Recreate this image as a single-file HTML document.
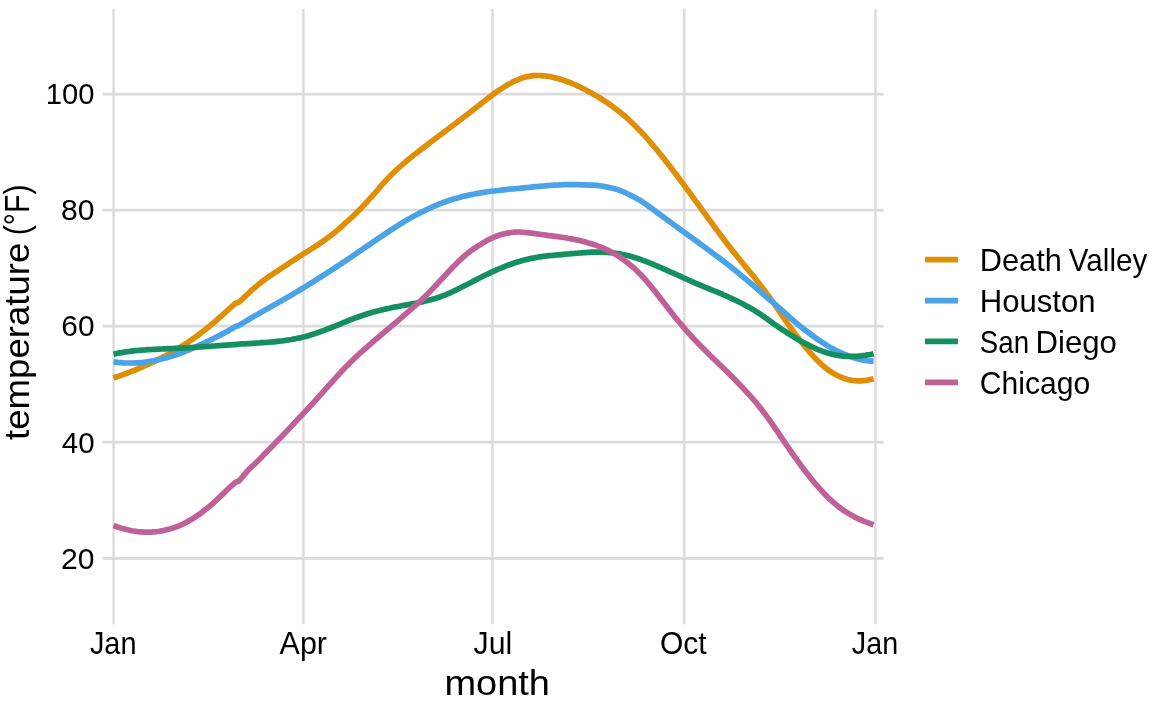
<!DOCTYPE html>
<html lang="en">
<head>
<meta charset="utf-8">
<title>Temperature by month</title>
<style>
html,body{margin:0;padding:0;background:#ffffff;}
body{width:1152px;height:711px;overflow:hidden;font-family:"Liberation Sans",sans-serif;}
svg{display:block;}
</style>
</head>
<body>
<svg role="img" aria-label="Daily temperature normals by month for four US locations" width="1152" height="711" viewBox="0 0 1152 711">
<rect width="1152" height="711" fill="#ffffff"/>
<g stroke="#dbdbdb" stroke-width="2.4" fill="none">
<line x1="102.5" x2="883.7" y1="94.0" y2="94.0" stroke-width="2.75"/>
<line x1="102.5" x2="883.7" y1="210.06" y2="210.06" stroke-width="2.75"/>
<line x1="102.5" x2="883.7" y1="326.12" y2="326.12" stroke-width="2.75"/>
<line x1="102.5" x2="883.7" y1="442.2" y2="442.2" stroke-width="2.75"/>
<line x1="102.5" x2="883.7" y1="558.25" y2="558.25" stroke-width="2.75"/>
<line x1="113.6" x2="113.6" y1="8.7" y2="624.3"/>
<line x1="303.45" x2="303.45" y1="8.7" y2="624.3"/>
<line x1="492.5" x2="492.5" y1="8.7" y2="624.3"/>
<line x1="684.25" x2="684.25" y1="8.7" y2="624.3"/>
<line x1="875.5" x2="875.5" y1="8.7" y2="624.3"/>
</g>
<g fill="none" stroke-width="5.7" stroke-linejoin="round" stroke-linecap="butt">
<path stroke="#DE8F05" d="M113.5,378.0 L115.5,377.3 L117.5,376.6 L119.5,375.9 L121.5,375.2 L123.5,374.5 L125.5,373.7 L127.5,373.0 L129.5,372.2 L131.5,371.4 L133.5,370.6 L135.5,369.8 L137.5,369.0 L139.5,368.1 L141.5,367.3 L143.5,366.4 L145.5,365.5 L147.5,364.6 L149.5,363.7 L151.5,362.8 L153.5,361.8 L155.5,360.9 L157.5,359.9 L159.5,358.9 L161.5,357.9 L163.5,356.8 L165.5,355.8 L167.5,354.7 L169.5,353.6 L171.5,352.5 L173.5,351.3 L175.5,350.1 L177.5,348.9 L179.5,347.7 L181.5,346.5 L183.5,345.2 L185.5,343.9 L187.5,342.6 L189.5,341.2 L191.5,339.9 L193.5,338.4 L195.5,337.0 L197.5,335.6 L199.5,334.1 L201.5,332.5 L203.5,331.0 L205.5,329.4 L207.5,327.8 L209.5,326.2 L211.5,324.5 L213.5,322.8 L215.5,321.1 L217.5,319.3 L219.5,317.5 L221.5,315.8 L223.5,314.0 L225.5,312.2 L227.5,310.3 L229.5,308.5 L231.5,306.8 L233.5,305.1 L235.5,303.5 L236.0,303.0 L237.5,302.7 L238.4,302.5 L239.5,301.6 L241.5,299.8 L243.5,298.0 L245.5,296.1 L247.5,294.2 L249.5,292.3 L251.5,290.4 L253.5,288.7 L255.5,287.0 L257.5,285.3 L259.5,283.7 L261.5,282.1 L263.5,280.5 L265.5,279.0 L267.5,277.6 L269.5,276.2 L271.5,274.9 L273.5,273.5 L275.5,272.2 L277.5,271.0 L279.5,269.7 L281.5,268.4 L283.5,267.0 L285.5,265.6 L287.5,264.3 L289.5,262.9 L291.5,261.6 L293.5,260.3 L295.5,259.0 L297.5,257.7 L299.5,256.4 L301.5,255.1 L303.5,253.9 L305.5,252.6 L307.5,251.4 L309.5,250.1 L311.5,248.9 L313.5,247.6 L315.5,246.3 L317.5,245.0 L319.5,243.7 L321.5,242.3 L323.5,240.9 L325.5,239.5 L327.5,238.0 L329.5,236.5 L331.5,235.0 L333.5,233.4 L335.5,231.8 L337.5,230.1 L339.5,228.4 L341.5,226.6 L343.5,224.8 L345.5,222.9 L347.5,221.2 L349.5,219.4 L351.5,217.5 L353.5,215.6 L355.5,213.7 L357.5,211.7 L359.5,209.7 L361.5,207.7 L363.5,205.6 L365.5,203.5 L367.5,201.3 L369.5,199.1 L371.5,196.9 L373.5,194.6 L375.5,192.3 L377.5,190.0 L379.5,187.7 L381.5,185.4 L383.5,183.2 L385.5,181.0 L387.5,178.8 L389.5,176.8 L391.5,174.8 L393.5,172.8 L395.5,170.9 L397.5,169.0 L399.5,167.2 L401.5,165.3 L403.5,163.6 L405.5,161.9 L407.5,160.2 L409.5,158.6 L411.5,156.9 L413.5,155.3 L415.5,153.8 L417.5,152.2 L419.5,150.7 L421.5,149.1 L423.5,147.6 L425.5,146.1 L427.5,144.6 L429.5,143.0 L431.5,141.5 L433.5,140.0 L435.5,138.5 L437.5,137.0 L439.5,135.5 L441.5,134.0 L443.5,132.5 L445.5,131.0 L447.5,129.5 L449.5,128.0 L451.5,126.5 L453.5,125.0 L455.5,123.5 L457.5,121.9 L459.5,120.4 L461.5,118.9 L463.5,117.3 L465.5,115.8 L467.5,114.3 L469.5,112.7 L471.5,111.2 L473.5,109.6 L475.5,108.0 L477.5,106.5 L479.5,104.9 L481.5,103.3 L483.5,101.7 L485.5,100.2 L487.5,98.6 L489.5,97.1 L491.5,95.6 L493.5,94.1 L495.5,92.7 L497.5,91.3 L499.5,89.9 L501.5,88.6 L503.5,87.3 L505.5,86.1 L507.5,84.9 L509.5,83.7 L511.5,82.7 L513.5,81.6 L515.5,80.7 L517.5,79.8 L519.5,79.0 L521.5,78.3 L523.5,77.6 L525.5,77.1 L527.5,76.6 L529.5,76.2 L531.5,75.9 L533.5,75.7 L535.5,75.6 L537.5,75.5 L539.5,75.5 L541.5,75.6 L543.5,75.8 L545.5,76.0 L547.5,76.2 L549.5,76.5 L551.5,76.9 L553.5,77.4 L555.5,77.9 L557.5,78.4 L559.5,79.0 L561.5,79.6 L563.5,80.3 L565.5,81.0 L567.5,81.7 L569.5,82.4 L571.5,83.2 L573.5,84.1 L575.5,84.9 L577.5,85.8 L579.5,86.7 L581.5,87.8 L583.5,88.8 L585.5,89.8 L587.5,90.9 L589.5,92.0 L591.5,93.1 L593.5,94.2 L595.5,95.4 L597.5,96.6 L599.5,97.8 L601.5,99.0 L603.5,100.3 L605.5,101.6 L607.5,102.9 L609.5,104.3 L611.5,105.7 L613.5,107.2 L615.5,108.7 L617.5,110.2 L619.5,111.7 L621.5,113.4 L623.5,115.0 L625.5,116.7 L627.5,118.4 L629.5,120.3 L631.5,122.2 L633.5,124.2 L635.5,126.1 L637.5,128.2 L639.5,130.3 L641.5,132.4 L643.5,134.5 L645.5,136.7 L647.5,139.0 L649.5,141.3 L651.5,143.6 L653.5,145.9 L655.5,148.3 L657.5,150.7 L659.5,153.2 L661.5,155.6 L663.5,158.1 L665.5,160.7 L667.5,163.2 L669.5,165.8 L671.5,168.4 L673.5,171.0 L675.5,173.7 L677.5,176.3 L679.5,179.0 L681.5,181.7 L683.5,184.4 L685.5,187.1 L687.5,189.8 L689.5,192.5 L691.5,195.3 L693.5,198.0 L695.5,200.8 L697.5,203.5 L699.5,206.3 L701.5,209.0 L703.5,211.8 L705.5,214.6 L707.5,217.3 L709.5,220.1 L711.5,222.8 L713.5,225.5 L715.5,228.2 L717.5,230.9 L719.5,233.6 L721.5,236.3 L723.5,239.0 L725.5,241.6 L727.5,244.2 L729.5,246.8 L731.5,249.4 L733.5,251.9 L735.5,254.4 L737.5,256.9 L739.5,259.3 L741.5,261.8 L743.5,264.2 L745.5,266.6 L747.5,269.1 L749.5,271.5 L751.5,273.9 L753.5,276.3 L755.5,278.8 L757.5,281.4 L759.5,284.0 L761.5,286.6 L763.5,289.2 L765.5,291.9 L767.5,294.6 L769.5,297.3 L771.5,300.1 L773.5,302.9 L775.5,305.8 L777.5,308.7 L779.5,311.7 L781.5,314.7 L783.5,317.6 L785.5,320.4 L787.5,323.3 L789.5,326.2 L791.5,329.1 L793.5,331.7 L795.5,334.4 L797.5,337.0 L799.5,339.6 L801.5,342.1 L803.5,344.6 L805.5,347.1 L807.5,349.5 L809.5,351.9 L811.5,354.2 L813.5,356.4 L815.5,358.5 L817.5,360.5 L819.5,362.5 L821.5,364.4 L823.5,366.2 L825.5,367.8 L827.5,369.4 L829.5,370.8 L831.5,372.2 L833.5,373.4 L835.5,374.5 L837.5,375.6 L839.5,376.5 L841.5,377.4 L843.5,378.2 L845.5,378.8 L847.5,379.4 L849.5,379.9 L851.5,380.2 L853.5,380.5 L855.5,380.7 L857.5,380.8 L859.5,380.8 L861.5,380.8 L863.5,380.6 L865.5,380.4 L867.5,380.1 L869.5,379.7 L871.5,379.3 L873.6,378.7"/>
<path stroke="#4AA3E6" d="M113.5,361.9 L115.5,362.2 L117.5,362.4 L119.5,362.6 L121.5,362.7 L123.5,362.9 L125.5,363.0 L127.5,363.0 L129.5,363.0 L131.5,363.0 L133.5,363.0 L135.5,362.9 L137.5,362.8 L139.5,362.6 L141.5,362.5 L143.5,362.3 L145.5,362.0 L147.5,361.7 L149.5,361.4 L151.5,361.1 L153.5,360.8 L155.5,360.4 L157.5,359.9 L159.5,359.5 L161.5,359.0 L163.5,358.5 L165.5,358.0 L167.5,357.4 L169.5,356.8 L171.5,356.2 L173.5,355.5 L175.5,354.9 L177.5,354.2 L179.5,353.5 L181.5,352.7 L183.5,352.0 L185.5,351.2 L187.5,350.4 L189.5,349.6 L191.5,348.7 L193.5,347.9 L195.5,347.0 L197.5,346.1 L199.5,345.2 L201.5,344.3 L203.5,343.3 L205.5,342.4 L207.5,341.4 L209.5,340.5 L211.5,339.5 L213.5,338.5 L215.5,337.5 L217.5,336.5 L219.5,335.4 L221.5,334.4 L223.5,333.4 L225.5,332.3 L227.5,331.2 L229.5,330.0 L231.5,328.9 L233.5,327.7 L235.5,326.5 L236.0,326.2 L237.5,325.9 L238.4,325.7 L239.5,325.1 L241.5,323.8 L243.5,322.6 L245.5,321.4 L247.5,320.2 L249.5,319.0 L251.5,317.8 L253.5,316.6 L255.5,315.5 L257.5,314.4 L259.5,313.2 L261.5,312.1 L263.5,310.9 L265.5,309.8 L267.5,308.7 L269.5,307.6 L271.5,306.4 L273.5,305.3 L275.5,304.2 L277.5,303.1 L279.5,301.9 L281.5,300.8 L283.5,299.6 L285.5,298.5 L287.5,297.3 L289.5,296.2 L291.5,295.0 L293.5,293.8 L295.5,292.6 L297.5,291.4 L299.5,290.2 L301.5,289.0 L303.5,287.8 L305.5,286.6 L307.5,285.3 L309.5,284.1 L311.5,282.8 L313.5,281.6 L315.5,280.3 L317.5,279.0 L319.5,277.7 L321.5,276.5 L323.5,275.2 L325.5,274.0 L327.5,272.7 L329.5,271.4 L331.5,270.1 L333.5,268.8 L335.5,267.5 L337.5,266.2 L339.5,264.9 L341.5,263.5 L343.5,262.2 L345.5,260.9 L347.5,259.5 L349.5,258.1 L351.5,256.8 L353.5,255.4 L355.5,254.1 L357.5,252.7 L359.5,251.3 L361.5,249.9 L363.5,248.6 L365.5,247.2 L367.5,245.8 L369.5,244.5 L371.5,243.1 L373.5,241.7 L375.5,240.4 L377.5,239.0 L379.5,237.7 L381.5,236.3 L383.5,235.0 L385.5,233.7 L387.5,232.3 L389.5,231.0 L391.5,229.7 L393.5,228.4 L395.5,227.1 L397.5,225.8 L399.5,224.5 L401.5,223.3 L403.5,222.1 L405.5,220.9 L407.5,219.7 L409.5,218.6 L411.5,217.4 L413.5,216.3 L415.5,215.2 L417.5,214.2 L419.5,213.1 L421.5,212.1 L423.5,211.2 L425.5,210.2 L427.5,209.3 L429.5,208.3 L431.5,207.4 L433.5,206.5 L435.5,205.6 L437.5,204.8 L439.5,203.9 L441.5,203.2 L443.5,202.4 L445.5,201.7 L447.5,201.0 L449.5,200.3 L451.5,199.7 L453.5,199.0 L455.5,198.5 L457.5,197.9 L459.5,197.4 L461.5,196.8 L463.5,196.3 L465.5,195.9 L467.5,195.4 L469.5,195.0 L471.5,194.6 L473.5,194.2 L475.5,193.8 L477.5,193.4 L479.5,193.1 L481.5,192.7 L483.5,192.4 L485.5,192.1 L487.5,191.8 L489.5,191.5 L491.5,191.2 L493.5,191.0 L495.5,190.8 L497.5,190.5 L499.5,190.3 L501.5,190.1 L503.5,189.9 L505.5,189.7 L507.5,189.4 L509.5,189.2 L511.5,189.0 L513.5,188.9 L515.5,188.7 L517.5,188.5 L519.5,188.3 L521.5,188.1 L523.5,187.9 L525.5,187.7 L527.5,187.5 L529.5,187.3 L531.5,187.1 L533.5,186.9 L535.5,186.7 L537.5,186.5 L539.5,186.3 L541.5,186.1 L543.5,186.0 L545.5,185.8 L547.5,185.6 L549.5,185.5 L551.5,185.3 L553.5,185.2 L555.5,185.1 L557.5,185.0 L559.5,184.9 L561.5,184.8 L563.5,184.7 L565.5,184.7 L567.5,184.6 L569.5,184.6 L571.5,184.6 L573.5,184.7 L575.5,184.7 L577.5,184.7 L579.5,184.7 L581.5,184.8 L583.5,184.8 L585.5,184.9 L587.5,185.1 L589.5,185.1 L591.5,185.1 L593.5,185.2 L595.5,185.3 L597.5,185.4 L599.5,185.7 L601.5,186.0 L603.5,186.4 L605.5,186.7 L607.5,187.1 L609.5,187.6 L611.5,188.0 L613.5,188.5 L615.5,189.1 L617.5,189.6 L619.5,190.3 L621.5,191.1 L623.5,191.9 L625.5,192.8 L627.5,193.8 L629.5,194.7 L631.5,195.7 L633.5,196.7 L635.5,197.8 L637.5,198.9 L639.5,200.0 L641.5,201.2 L643.5,202.6 L645.5,204.0 L647.5,205.4 L649.5,206.8 L651.5,208.3 L653.5,209.8 L655.5,211.2 L657.5,212.8 L659.5,214.2 L661.5,215.6 L663.5,217.1 L665.5,218.6 L667.5,220.0 L669.5,221.5 L671.5,223.0 L673.5,224.5 L675.5,226.0 L677.5,227.4 L679.5,228.9 L681.5,230.3 L683.5,231.8 L685.5,233.2 L687.5,234.6 L689.5,236.1 L691.5,237.5 L693.5,239.0 L695.5,240.4 L697.5,241.9 L699.5,243.4 L701.5,244.8 L703.5,246.3 L705.5,247.8 L707.5,249.3 L709.5,250.8 L711.5,252.2 L713.5,253.7 L715.5,255.2 L717.5,256.7 L719.5,258.1 L721.5,259.7 L723.5,261.2 L725.5,262.7 L727.5,264.3 L729.5,265.8 L731.5,267.4 L733.5,269.0 L735.5,270.7 L737.5,272.3 L739.5,273.9 L741.5,275.6 L743.5,277.3 L745.5,278.9 L747.5,280.6 L749.5,282.3 L751.5,284.0 L753.5,285.7 L755.5,287.4 L757.5,289.2 L759.5,290.9 L761.5,292.6 L763.5,294.3 L765.5,296.1 L767.5,297.8 L769.5,299.5 L771.5,301.2 L773.5,302.9 L775.5,304.7 L777.5,306.4 L779.5,308.1 L781.5,309.9 L783.5,311.7 L785.5,313.5 L787.5,315.2 L789.5,317.0 L791.5,318.8 L793.5,320.5 L795.5,322.3 L797.5,324.0 L799.5,325.7 L801.5,327.3 L803.5,328.9 L805.5,330.4 L807.5,331.9 L809.5,333.4 L811.5,334.9 L813.5,336.4 L815.5,337.8 L817.5,339.2 L819.5,340.6 L821.5,341.9 L823.5,343.2 L825.5,344.5 L827.5,345.7 L829.5,346.9 L831.5,348.1 L833.5,349.1 L835.5,350.2 L837.5,351.2 L839.5,352.1 L841.5,353.0 L843.5,353.9 L845.5,354.7 L847.5,355.5 L849.5,356.2 L851.5,356.9 L853.5,357.6 L855.5,358.2 L857.5,358.8 L859.5,359.3 L861.5,359.8 L863.5,360.2 L865.5,360.5 L867.5,360.8 L869.5,361.0 L871.5,361.1 L873.6,361.2"/>
<path stroke="#149060" d="M113.5,354.2 L115.5,353.8 L117.5,353.3 L119.5,352.9 L121.5,352.6 L123.5,352.2 L125.5,351.9 L127.5,351.6 L129.5,351.4 L131.5,351.1 L133.5,350.9 L135.5,350.7 L137.5,350.5 L139.5,350.3 L141.5,350.1 L143.5,350.0 L145.5,349.9 L147.5,349.7 L149.5,349.6 L151.5,349.5 L153.5,349.4 L155.5,349.3 L157.5,349.2 L159.5,349.1 L161.5,349.0 L163.5,348.9 L165.5,348.8 L167.5,348.7 L169.5,348.6 L171.5,348.6 L173.5,348.5 L175.5,348.4 L177.5,348.3 L179.5,348.2 L181.5,348.1 L183.5,348.0 L185.5,347.9 L187.5,347.8 L189.5,347.6 L191.5,347.5 L193.5,347.4 L195.5,347.3 L197.5,347.2 L199.5,347.0 L201.5,346.9 L203.5,346.7 L205.5,346.6 L207.5,346.5 L209.5,346.3 L211.5,346.2 L213.5,346.0 L215.5,345.9 L217.5,345.7 L219.5,345.6 L221.5,345.4 L223.5,345.3 L225.5,345.2 L227.5,345.1 L229.5,344.9 L231.5,344.8 L233.5,344.7 L235.5,344.6 L236.0,344.6 L237.5,344.3 L238.4,344.1 L239.5,344.0 L241.5,343.9 L243.5,343.8 L245.5,343.8 L247.5,343.7 L249.5,343.6 L251.5,343.4 L253.5,343.3 L255.5,343.2 L257.5,343.0 L259.5,342.9 L261.5,342.7 L263.5,342.6 L265.5,342.5 L267.5,342.3 L269.5,342.2 L271.5,342.0 L273.5,341.8 L275.5,341.6 L277.5,341.4 L279.5,341.2 L281.5,341.0 L283.5,340.7 L285.5,340.4 L287.5,340.1 L289.5,339.8 L291.5,339.5 L293.5,339.1 L295.5,338.7 L297.5,338.3 L299.5,337.9 L301.5,337.4 L303.5,336.9 L305.5,336.4 L307.5,335.9 L309.5,335.3 L311.5,334.7 L313.5,334.1 L315.5,333.4 L317.5,332.7 L319.5,332.0 L321.5,331.3 L323.5,330.6 L325.5,329.8 L327.5,329.0 L329.5,328.3 L331.5,327.5 L333.5,326.7 L335.5,325.9 L337.5,325.2 L339.5,324.3 L341.5,323.5 L343.5,322.6 L345.5,321.8 L347.5,321.0 L349.5,320.2 L351.5,319.4 L353.5,318.6 L355.5,317.9 L357.5,317.2 L359.5,316.5 L361.5,315.8 L363.5,315.1 L365.5,314.5 L367.5,313.8 L369.5,313.2 L371.5,312.6 L373.5,312.1 L375.5,311.5 L377.5,310.9 L379.5,310.4 L381.5,309.9 L383.5,309.5 L385.5,309.0 L387.5,308.6 L389.5,308.2 L391.5,307.7 L393.5,307.3 L395.5,306.9 L397.5,306.6 L399.5,306.2 L401.5,305.8 L403.5,305.4 L405.5,305.1 L407.5,304.7 L409.5,304.4 L411.5,304.0 L413.5,303.6 L415.5,303.2 L417.5,302.9 L419.5,302.4 L421.5,302.0 L423.5,301.6 L425.5,301.1 L427.5,300.6 L429.5,300.1 L431.5,299.6 L433.5,299.0 L435.5,298.4 L437.5,297.7 L439.5,297.1 L441.5,296.3 L443.5,295.6 L445.5,294.8 L447.5,293.9 L449.5,293.1 L451.5,292.2 L453.5,291.2 L455.5,290.3 L457.5,289.3 L459.5,288.3 L461.5,287.3 L463.5,286.3 L465.5,285.3 L467.5,284.2 L469.5,283.2 L471.5,282.2 L473.5,281.1 L475.5,280.1 L477.5,279.1 L479.5,278.0 L481.5,277.0 L483.5,276.0 L485.5,275.0 L487.5,274.1 L489.5,273.1 L491.5,272.2 L493.5,271.3 L495.5,270.4 L497.5,269.5 L499.5,268.6 L501.5,267.8 L503.5,267.0 L505.5,266.2 L507.5,265.4 L509.5,264.7 L511.5,264.0 L513.5,263.3 L515.5,262.6 L517.5,262.0 L519.5,261.4 L521.5,260.8 L523.5,260.3 L525.5,259.8 L527.5,259.3 L529.5,258.8 L531.5,258.4 L533.5,258.0 L535.5,257.6 L537.5,257.2 L539.5,256.9 L541.5,256.6 L543.5,256.3 L545.5,256.1 L547.5,255.9 L549.5,255.7 L551.5,255.5 L553.5,255.3 L555.5,255.1 L557.5,254.9 L559.5,254.8 L561.5,254.6 L563.5,254.4 L565.5,254.2 L567.5,254.0 L569.5,253.9 L571.5,253.7 L573.5,253.5 L575.5,253.3 L577.5,253.2 L579.5,253.0 L581.5,252.8 L583.5,252.7 L585.5,252.6 L587.5,252.4 L589.5,252.3 L591.5,252.2 L593.5,252.2 L595.5,252.1 L597.5,252.1 L599.5,252.1 L601.5,252.1 L603.5,252.2 L605.5,252.3 L607.5,252.4 L609.5,252.6 L611.5,252.7 L613.5,253.0 L615.5,253.2 L617.5,253.5 L619.5,253.9 L621.5,254.3 L623.5,254.7 L625.5,255.1 L627.5,255.6 L629.5,256.1 L631.5,256.6 L633.5,257.2 L635.5,257.8 L637.5,258.5 L639.5,259.1 L641.5,259.8 L643.5,260.6 L645.5,261.3 L647.5,262.1 L649.5,262.9 L651.5,263.7 L653.5,264.5 L655.5,265.4 L657.5,266.2 L659.5,267.1 L661.5,267.9 L663.5,268.8 L665.5,269.7 L667.5,270.6 L669.5,271.5 L671.5,272.4 L673.5,273.2 L675.5,274.1 L677.5,275.0 L679.5,275.9 L681.5,276.8 L683.5,277.8 L685.5,278.7 L687.5,279.6 L689.5,280.5 L691.5,281.4 L693.5,282.3 L695.5,283.2 L697.5,284.0 L699.5,284.9 L701.5,285.7 L703.5,286.6 L705.5,287.4 L707.5,288.2 L709.5,289.0 L711.5,289.8 L713.5,290.6 L715.5,291.4 L717.5,292.2 L719.5,293.0 L721.5,293.9 L723.5,294.8 L725.5,295.6 L727.5,296.5 L729.5,297.5 L731.5,298.4 L733.5,299.3 L735.5,300.3 L737.5,301.3 L739.5,302.3 L741.5,303.3 L743.5,304.3 L745.5,305.4 L747.5,306.5 L749.5,307.6 L751.5,308.7 L753.5,309.9 L755.5,311.2 L757.5,312.4 L759.5,313.7 L761.5,315.0 L763.5,316.4 L765.5,317.8 L767.5,319.2 L769.5,320.7 L771.5,322.1 L773.5,323.6 L775.5,325.0 L777.5,326.5 L779.5,327.8 L781.5,329.1 L783.5,330.4 L785.5,331.7 L787.5,333.0 L789.5,334.3 L791.5,335.6 L793.5,336.8 L795.5,338.0 L797.5,339.2 L799.5,340.4 L801.5,341.5 L803.5,342.6 L805.5,343.6 L807.5,344.6 L809.5,345.6 L811.5,346.6 L813.5,347.5 L815.5,348.5 L817.5,349.3 L819.5,350.1 L821.5,350.9 L823.5,351.6 L825.5,352.3 L827.5,352.9 L829.5,353.5 L831.5,354.1 L833.5,354.5 L835.5,355.0 L837.5,355.3 L839.5,355.6 L841.5,355.9 L843.5,356.1 L845.5,356.3 L847.5,356.4 L849.5,356.4 L851.5,356.4 L853.5,356.4 L855.5,356.3 L857.5,356.2 L859.5,356.0 L861.5,355.8 L863.5,355.5 L865.5,355.3 L867.5,354.9 L869.5,354.6 L871.5,354.2 L873.6,353.7"/>
<path stroke="#BF6198" d="M113.5,525.6 L115.5,526.3 L117.5,527.0 L119.5,527.6 L121.5,528.3 L123.5,528.8 L125.5,529.3 L127.5,529.8 L129.5,530.3 L131.5,530.7 L133.5,531.0 L135.5,531.3 L137.5,531.6 L139.5,531.8 L141.5,531.9 L143.5,532.1 L145.5,532.1 L147.5,532.2 L149.5,532.1 L151.5,532.1 L153.5,531.9 L155.5,531.8 L157.5,531.5 L159.5,531.3 L161.5,530.9 L163.5,530.6 L165.5,530.1 L167.5,529.6 L169.5,529.1 L171.5,528.5 L173.5,527.8 L175.5,527.1 L177.5,526.4 L179.5,525.6 L181.5,524.7 L183.5,523.7 L185.5,522.8 L187.5,521.7 L189.5,520.6 L191.5,519.4 L193.5,518.2 L195.5,516.9 L197.5,515.5 L199.5,514.1 L201.5,512.7 L203.5,511.1 L205.5,509.5 L207.5,508.0 L209.5,506.3 L211.5,504.6 L213.5,502.8 L215.5,501.0 L217.5,499.1 L219.5,497.3 L221.5,495.4 L223.5,493.4 L225.5,491.4 L227.5,489.5 L229.5,487.6 L231.5,485.8 L233.5,484.0 L235.5,482.3 L236.0,481.9 L237.5,481.5 L238.4,481.4 L239.5,480.3 L241.5,478.0 L243.5,475.6 L245.5,473.3 L247.5,470.9 L249.5,468.8 L251.5,466.9 L253.5,465.1 L255.5,463.2 L257.5,461.2 L259.5,459.2 L261.5,457.2 L263.5,455.1 L265.5,453.1 L267.5,451.0 L269.5,449.0 L271.5,446.9 L273.5,444.9 L275.5,442.8 L277.5,440.7 L279.5,438.7 L281.5,436.6 L283.5,434.5 L285.5,432.5 L287.5,430.4 L289.5,428.2 L291.5,426.1 L293.5,424.0 L295.5,421.8 L297.5,419.6 L299.5,417.5 L301.5,415.5 L303.5,413.4 L305.5,411.2 L307.5,409.1 L309.5,406.9 L311.5,404.8 L313.5,402.6 L315.5,400.3 L317.5,398.1 L319.5,395.9 L321.5,393.6 L323.5,391.4 L325.5,389.2 L327.5,386.9 L329.5,384.7 L331.5,382.5 L333.5,380.3 L335.5,378.0 L337.5,375.8 L339.5,373.7 L341.5,371.5 L343.5,369.4 L345.5,367.3 L347.5,365.3 L349.5,363.2 L351.5,361.3 L353.5,359.3 L355.5,357.4 L357.5,355.5 L359.5,353.7 L361.5,351.9 L363.5,350.1 L365.5,348.3 L367.5,346.6 L369.5,344.8 L371.5,343.1 L373.5,341.4 L375.5,339.7 L377.5,338.0 L379.5,336.3 L381.5,334.6 L383.5,332.9 L385.5,331.2 L387.5,329.5 L389.5,327.8 L391.5,326.1 L393.5,324.4 L395.5,322.8 L397.5,321.1 L399.5,319.4 L401.5,317.7 L403.5,315.9 L405.5,314.2 L407.5,312.4 L409.5,310.7 L411.5,308.9 L413.5,307.1 L415.5,305.3 L417.5,303.5 L419.5,301.7 L421.5,299.8 L423.5,297.9 L425.5,296.0 L427.5,294.0 L429.5,292.0 L431.5,289.9 L433.5,287.8 L435.5,285.7 L437.5,283.6 L439.5,281.4 L441.5,279.3 L443.5,277.1 L445.5,275.0 L447.5,272.8 L449.5,270.6 L451.5,268.5 L453.5,266.4 L455.5,264.4 L457.5,262.4 L459.5,260.5 L461.5,258.6 L463.5,256.8 L465.5,255.0 L467.5,253.4 L469.5,251.8 L471.5,250.3 L473.5,248.9 L475.5,247.6 L477.5,246.3 L479.5,245.1 L481.5,243.8 L483.5,242.6 L485.5,241.4 L487.5,240.3 L489.5,239.2 L491.5,238.3 L493.5,237.4 L495.5,236.5 L497.5,235.8 L499.5,235.1 L501.5,234.5 L503.5,234.0 L505.5,233.5 L507.5,233.1 L509.5,232.8 L511.5,232.5 L513.5,232.2 L515.5,232.1 L517.5,232.0 L519.5,232.0 L521.5,232.2 L523.5,232.3 L525.5,232.5 L527.5,232.7 L529.5,232.9 L531.5,233.2 L533.5,233.4 L535.5,233.7 L537.5,234.0 L539.5,234.2 L541.5,234.5 L543.5,234.8 L545.5,235.1 L547.5,235.4 L549.5,235.7 L551.5,235.9 L553.5,236.1 L555.5,236.4 L557.5,236.6 L559.5,236.9 L561.5,237.2 L563.5,237.5 L565.5,237.8 L567.5,238.2 L569.5,238.5 L571.5,238.9 L573.5,239.3 L575.5,239.7 L577.5,240.1 L579.5,240.6 L581.5,241.1 L583.5,241.6 L585.5,242.1 L587.5,242.7 L589.5,243.2 L591.5,243.8 L593.5,244.5 L595.5,245.1 L597.5,245.8 L599.5,246.6 L601.5,247.3 L603.5,248.2 L605.5,249.1 L607.5,250.1 L609.5,251.1 L611.5,252.1 L613.5,253.2 L615.5,254.4 L617.5,255.6 L619.5,256.9 L621.5,258.3 L623.5,259.7 L625.5,261.2 L627.5,262.7 L629.5,264.3 L631.5,266.0 L633.5,267.7 L635.5,269.5 L637.5,271.4 L639.5,273.4 L641.5,275.5 L643.5,277.7 L645.5,279.9 L647.5,282.3 L649.5,284.6 L651.5,287.1 L653.5,289.5 L655.5,292.1 L657.5,294.6 L659.5,297.1 L661.5,299.7 L663.5,302.2 L665.5,304.8 L667.5,307.5 L669.5,310.1 L671.5,312.6 L673.5,315.2 L675.5,317.7 L677.5,320.1 L679.5,322.5 L681.5,324.9 L683.5,327.3 L685.5,329.6 L687.5,331.9 L689.5,334.1 L691.5,336.3 L693.5,338.5 L695.5,340.6 L697.5,342.7 L699.5,344.7 L701.5,346.8 L703.5,348.8 L705.5,350.8 L707.5,352.8 L709.5,354.8 L711.5,356.7 L713.5,358.7 L715.5,360.6 L717.5,362.5 L719.5,364.5 L721.5,366.4 L723.5,368.3 L725.5,370.3 L727.5,372.3 L729.5,374.3 L731.5,376.3 L733.5,378.3 L735.5,380.3 L737.5,382.4 L739.5,384.4 L741.5,386.5 L743.5,388.6 L745.5,390.8 L747.5,393.0 L749.5,395.2 L751.5,397.4 L753.5,399.7 L755.5,402.0 L757.5,404.4 L759.5,406.9 L761.5,409.4 L763.5,412.0 L765.5,414.6 L767.5,417.4 L769.5,420.1 L771.5,423.0 L773.5,425.9 L775.5,428.8 L777.5,431.7 L779.5,434.7 L781.5,437.7 L783.5,440.6 L785.5,443.6 L787.5,446.5 L789.5,449.4 L791.5,452.3 L793.5,455.1 L795.5,457.9 L797.5,460.7 L799.5,463.5 L801.5,466.2 L803.5,468.8 L805.5,471.5 L807.5,474.1 L809.5,476.6 L811.5,479.1 L813.5,481.5 L815.5,483.9 L817.5,486.2 L819.5,488.5 L821.5,490.7 L823.5,492.9 L825.5,494.9 L827.5,496.9 L829.5,498.9 L831.5,500.7 L833.5,502.5 L835.5,504.2 L837.5,505.8 L839.5,507.4 L841.5,508.9 L843.5,510.3 L845.5,511.6 L847.5,512.9 L849.5,514.1 L851.5,515.2 L853.5,516.3 L855.5,517.4 L857.5,518.4 L859.5,519.3 L861.5,520.2 L863.5,521.1 L865.5,521.9 L867.5,522.6 L869.5,523.4 L871.5,524.1 L873.6,524.8"/>
</g>
<g stroke-width="5.7" fill="none">
<line stroke="#DE8F05" x1="925" x2="958" y1="259.7" y2="259.7"/>
<line stroke="#4AA3E6" x1="925" x2="958" y1="300.7" y2="300.7"/>
<line stroke="#149060" x1="925" x2="958" y1="341.4" y2="341.4"/>
<line stroke="#BF6198" x1="925" x2="958" y1="382.3" y2="382.3"/>
</g>
<text font-family="'Liberation Sans', sans-serif" font-size="30px" fill="#000000" x="45.86" y="104.30" textLength="48.68" lengthAdjust="spacingAndGlyphs">100</text>
<text font-family="'Liberation Sans', sans-serif" font-size="30px" fill="#000000" x="61.10" y="220.36" textLength="33.51" lengthAdjust="spacingAndGlyphs">80</text>
<text font-family="'Liberation Sans', sans-serif" font-size="30px" fill="#000000" x="61.33" y="336.42" textLength="33.22" lengthAdjust="spacingAndGlyphs">60</text>
<text font-family="'Liberation Sans', sans-serif" font-size="30px" fill="#000000" x="61.77" y="452.50" textLength="32.82" lengthAdjust="spacingAndGlyphs">40</text>
<text font-family="'Liberation Sans', sans-serif" font-size="30px" fill="#000000" x="61.01" y="568.55" textLength="33.52" lengthAdjust="spacingAndGlyphs">20</text>
<text font-family="'Liberation Sans', sans-serif" font-size="30.5px" fill="#000000" x="89.93" y="653.60" textLength="46.57" lengthAdjust="spacingAndGlyphs">Jan</text>
<text font-family="'Liberation Sans', sans-serif" font-size="30.5px" fill="#000000" x="279.61" y="653.60" textLength="47.33" lengthAdjust="spacingAndGlyphs">Apr</text>
<text font-family="'Liberation Sans', sans-serif" font-size="30.5px" fill="#000000" x="473.59" y="653.60" textLength="38.67" lengthAdjust="spacingAndGlyphs">Jul</text>
<text font-family="'Liberation Sans', sans-serif" font-size="30.5px" fill="#000000" x="659.92" y="653.60" textLength="46.66" lengthAdjust="spacingAndGlyphs">Oct</text>
<text font-family="'Liberation Sans', sans-serif" font-size="30.5px" fill="#000000" x="851.87" y="653.60" textLength="46.31" lengthAdjust="spacingAndGlyphs">Jan</text>
<text font-family="'Liberation Sans', sans-serif" font-size="30.5px" fill="#000000" y="270.70"><tspan x="979.80" textLength="82.01" lengthAdjust="spacingAndGlyphs">Death</tspan> <tspan x="1068.83" textLength="78.38" lengthAdjust="spacingAndGlyphs">Valley</tspan></text>
<text font-family="'Liberation Sans', sans-serif" font-size="30.5px" fill="#000000" x="979.82" y="311.70" textLength="115.78" lengthAdjust="spacingAndGlyphs">Houston</text>
<text font-family="'Liberation Sans', sans-serif" font-size="30.5px" fill="#000000" y="352.60"><tspan x="979.80" textLength="49.32" lengthAdjust="spacingAndGlyphs">San</tspan> <tspan x="1035.62" textLength="81.30" lengthAdjust="spacingAndGlyphs">Diego</tspan></text>
<text font-family="'Liberation Sans', sans-serif" font-size="30.5px" fill="#000000" x="979.86" y="393.60" textLength="110.36" lengthAdjust="spacingAndGlyphs">Chicago</text>
<text font-family="'Liberation Sans', sans-serif" font-size="35px" fill="#000000" x="444.47" y="694.70" textLength="105.50" lengthAdjust="spacingAndGlyphs">month</text>
<text font-family="'Liberation Sans', sans-serif" font-size="35px" fill="#000000" transform="translate(28.70,0) rotate(-90)"><tspan x="-439.95" y="0" textLength="197.23" lengthAdjust="spacingAndGlyphs">temperature</tspan> <tspan x="-235.22" y="0" textLength="50.75" lengthAdjust="spacingAndGlyphs">(°F)</tspan></text>
</svg>
</body>
</html>
